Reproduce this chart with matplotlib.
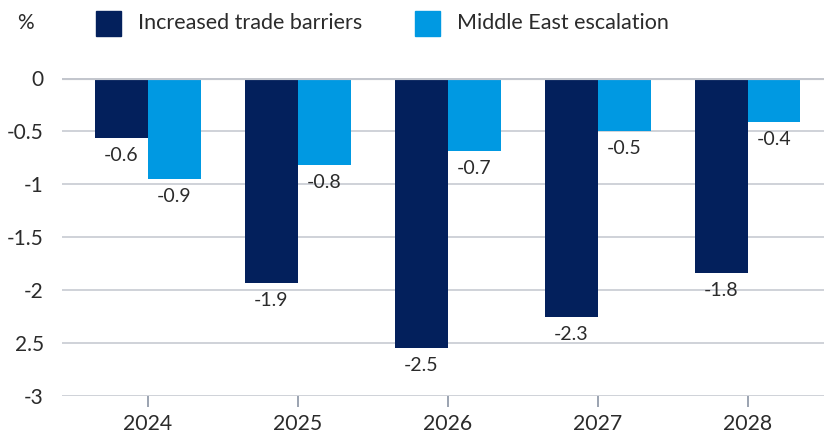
import matplotlib.pyplot as plt
import numpy as np

plt.rcParams['font.family'] = ['Lato', 'DejaVu Sans']

years = ['2024', '2025', '2026', '2027', '2028']
trade = [-0.57, -1.93, -2.55, -2.25, -1.84]
trade_labels = ['-0.6', '-1.9', '-2.5', '-2.3', '-1.8']
mideast = [-0.95, -0.82, -0.69, -0.50, -0.415]
mideast_labels = ['-0.9', '-0.8', '-0.7', '-0.5', '-0.4']
yticks = [0, -0.5, -1, -1.5, -2, -2.5, -3]
ytick_labels = ['0', '-0.5', '-1', '-1.5', '-2', '2.5', '-3']

dark = '#03205C'
light = '#0099E2'
txt = '#2B2B2B'
grid = '#CCCFD5'

fig = plt.figure(figsize=(8.24, 4.37), dpi=100)
ax = fig.add_axes([0.0752, 0.0938, 0.9248, 0.7277])

x = np.arange(len(years))
w = 0.353
b1 = ax.bar(x - w / 2, trade, w, color=dark, zorder=3)
b2 = ax.bar(x + w / 2, mideast, w, color=light, zorder=3)

for bars, labs in ((b1, trade_labels), (b2, mideast_labels)):
    for r, lab in zip(bars, labs):
        ax.annotate(lab, (r.get_x() + r.get_width() / 2, r.get_height()),
                    xytext=(0, -6.5), textcoords='offset points',
                    ha='center', va='top', fontsize=14, color=txt)

ax.set_xlim(-0.573, 4.51)
ax.set_ylim(-3, 0)
ax.set_yticks(yticks)
ax.set_yticklabels(ytick_labels)
ax.set_xticks(x)
ax.set_xticklabels(years)
ax.yaxis.grid(True, color=grid, linewidth=1.3, zorder=0)
ax.axhline(0, color='#C3C6CD', linewidth=3, zorder=4)
for s in ax.spines.values():
    s.set_visible(False)
ax.tick_params(axis='y', length=0, pad=13, labelsize=15, labelcolor=txt)
ax.tick_params(axis='x', length=8, width=1.2, color='#8A93A3', pad=5,
               labelsize=15.3, labelcolor=txt)
ax.set_clip_on(False)

# legend
fig.text(17 / 824, 1 - 23 / 437, '%', fontsize=15, color=txt, va='center')
fig.patches.append(plt.Rectangle((96 / 824, 1 - 36 / 437), 25 / 824, 25 / 437,
                                 transform=fig.transFigure, color=dark))
fig.text(138 / 824, 1 - 23 / 437, 'Increased trade barriers', fontsize=15.5,
         color=txt, va='center')
fig.patches.append(plt.Rectangle((415 / 824, 1 - 36 / 437), 25 / 824, 25 / 437,
                                 transform=fig.transFigure, color=light))
fig.text(457 / 824, 1 - 23 / 437, 'Middle East escalation', fontsize=15.5,
         color=txt, va='center')

fig.savefig('out.png', dpi=100)
